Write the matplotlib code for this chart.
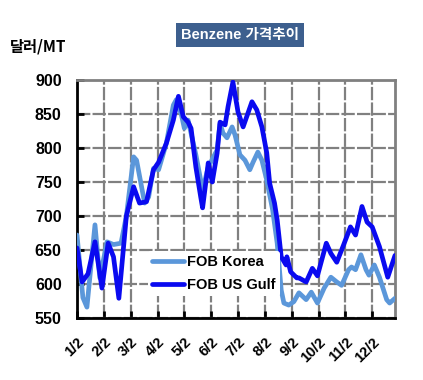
import matplotlib
matplotlib.use("Agg")
import matplotlib.pyplot as plt

# month positions (0 = 1/2, 1 = 2/2, ...)
tick_labels = ["1/2", "2/2", "3/2", "4/2", "5/2", "6/2", "7/2", "8/2", "9/2", "10/2", "11/2", "12/2"]
yticks = [550, 600, 650, 700, 750, 800, 850, 900]

korea_x = [0.00, 0.22, 0.37, 0.67, 0.85, 1.12, 1.36, 1.64, 1.84, 2.11, 2.22, 2.52, 2.67, 2.85,
           3.04, 3.33, 3.59, 3.70, 3.89, 4.00, 4.14, 4.43, 4.68, 4.89, 5.22, 5.33, 5.44, 5.59,
           5.78, 5.89, 6.07, 6.26, 6.44, 6.56, 6.74, 6.89, 7.07, 7.29, 7.46, 7.61, 7.71, 7.89,
           8.08, 8.27, 8.54, 8.73, 8.96, 9.21, 9.46, 9.68, 9.86, 10.12, 10.23, 10.38, 10.58,
           10.77, 10.88, 11.08, 11.27, 11.54, 11.65, 11.85]
korea_y = [672, 580, 566, 687, 609, 662, 658, 660, 700, 787, 782, 719, 728, 770,
           768, 807, 863, 871, 849, 829, 841, 790, 738, 772, 797, 836, 822, 815,
           831, 819, 790, 782, 768, 779, 794, 782, 753, 709, 660, 591, 572, 569,
           574, 587, 577, 588, 572, 594, 610, 603, 598, 621, 625, 621, 643,
           621, 613, 628, 610, 577, 572, 579]

gulf_x = [0.00, 0.19, 0.41, 0.67, 0.93, 1.16, 1.36, 1.56, 1.84, 2.11, 2.33, 2.59, 2.85, 3.04,
          3.33, 3.59, 3.78, 3.96, 4.14, 4.25, 4.43, 4.61, 4.68, 4.86, 4.89, 5.04, 5.22, 5.33,
          5.52, 5.63, 5.81, 6.00, 6.19, 6.52, 6.70, 6.89, 7.07, 7.18, 7.36, 7.46, 7.61, 7.79,
          7.82, 7.96, 8.19, 8.27, 8.54, 8.77, 8.96, 9.29, 9.46, 9.68, 9.93, 10.19, 10.38,
          10.62, 10.81, 11.00, 11.27, 11.58, 11.85]
gulf_y = [653, 603, 615, 662, 594, 660, 640, 579, 700, 743, 719, 721, 768, 779,
          807, 841, 876, 846, 838, 829, 772, 728, 712, 768, 778, 750, 792, 838,
          834, 861, 897, 853, 831, 868, 856, 831, 793, 748, 719, 694, 640, 628,
          640, 618, 609, 609, 603, 623, 612, 660, 645, 632, 657, 684, 672,
          714, 691, 684, 655, 610, 642]

LIGHT = "#5B97DA"
DARK = "#0A0AF0"
GRID = "#808080"

fig = plt.figure(figsize=(4.23, 3.80), dpi=100)
ax = fig.add_axes([77/423, 1-318/380, (395-77)/423, (318-80)/380])

ax.plot(korea_x, korea_y, color=LIGHT, lw=3.4, solid_joinstyle="round", solid_capstyle="round",
        label="FOB Korea", zorder=3)
ax.plot(gulf_x, gulf_y, color=DARK, lw=3.4, solid_joinstyle="round", solid_capstyle="round",
        label="FOB US Gulf", zorder=4)

ax.set_xlim(0, 11.85)
ax.set_ylim(550, 900)
ax.set_xticks(range(len(tick_labels)))
ax.set_xticklabels(tick_labels, rotation=45, ha="right", rotation_mode="anchor",
                   fontsize=10.5, fontweight="bold", family="Liberation Sans")
ax.set_yticks(yticks)
ax.set_yticklabels([str(v) for v in yticks], fontsize=11.5, fontweight="bold", family="Liberation Sans")
ax.tick_params(axis="x", direction="in", length=5, width=2, color="black", pad=12)
ax.tick_params(axis="y", direction="in", length=5, width=2, color="black", pad=11)

ax.grid(True, color=GRID, lw=1.6, linestyle=(0, (6, 1)), zorder=1)
ax.set_axisbelow(True)
for side in ["top", "right"]:
    ax.spines[side].set_color(GRID)
    ax.spines[side].set_linewidth(2)
for side in ["left", "bottom"]:
    ax.spines[side].set_color("black")
    ax.spines[side].set_linewidth(2)

leg = ax.legend(loc="lower left", bbox_to_anchor=(0.2, 0.06), frameon=True, framealpha=1,
                edgecolor="none", facecolor="white", handlelength=2.2, handletextpad=0.2,
                borderpad=0.3, labelspacing=0.6,
                prop={"family": "Liberation Sans", "weight": "bold", "size": 10.5})
leg.set_zorder(5)

fig.text(240/423, 1-35/380, "Benzene 가격추이", ha="center", va="center", color="white",
         fontsize=10.5, fontweight="bold", family=["Liberation Sans", "Noto Sans CJK KR"],
         bbox=dict(boxstyle="square,pad=0.35", facecolor="#3D5F8E", edgecolor="none"))
fig.text(10/423, 1-47/380, "달러/MT", ha="left", va="center", color="black",
         fontsize=11, fontweight="bold", family=["Noto Sans CJK KR", "Liberation Sans"])

fig.savefig("out.png", dpi=100, facecolor="white")
